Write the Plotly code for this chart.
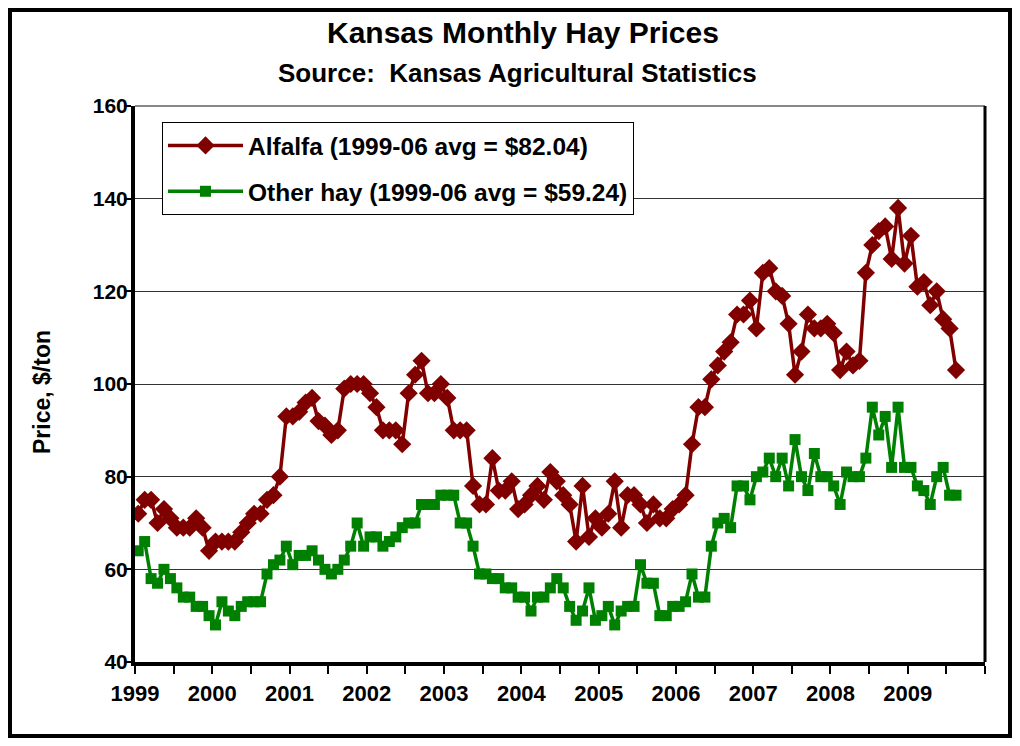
import plotly.graph_objects as go

# Monthly prices, $/ton, Jan 1999 - Aug 2009
alfalfa = [72, 75, 75, 70, 73, 71, 69, 69, 69, 71, 69, 64,
           66, 66, 66, 66, 68, 70, 72, 72, 75, 76, 80, 93,
           93, 94, 96, 97, 92, 91, 89, 90, 99, 100, 100, 100,
           98, 95, 90, 90, 90, 87, 98, 102, 105, 98, 98, 100,
           97, 90, 90, 90, 78, 74, 74, 84, 77, 77, 79, 73,
           74, 76, 78, 75, 81, 79, 76, 74, 66, 78, 67, 71,
           69, 72, 79, 69, 76, 76, 74, 70, 74, 71, 71, 73,
           74, 76, 87, 95, 95, 101, 104, 107, 109, 115, 115, 118,
           112, 124, 125, 120, 119, 113, 102, 107, 115, 112, 112, 113,
           111, 103, 107, 104, 105, 124, 130, 133, 134, 127, 138, 126,
           132, 121, 122, 117, 120, 114, 112, 103]

other_hay = [64, 66, 58, 57, 60, 58, 56, 54, 54, 52, 52, 50,
             48, 53, 51, 50, 52, 53, 53, 53, 59, 61, 62, 65,
             61, 63, 63, 64, 62, 60, 59, 60, 62, 65, 70, 65,
             67, 67, 65, 66, 67, 69, 70, 70, 74, 74, 74, 76,
             76, 76, 70, 70, 65, 59, 59, 58, 58, 56, 56, 54,
             54, 51, 54, 54, 56, 58, 56, 52, 49, 51, 56, 49,
             50, 52, 48, 51, 52, 52, 61, 57, 57, 50, 50, 52,
             52, 53, 59, 54, 54, 65, 70, 71, 69, 78, 78, 75,
             80, 81, 84, 80, 84, 78, 88, 80, 77, 85, 80, 80,
             78, 74, 81, 80, 80, 84, 95, 89, 93, 82, 95, 82,
             82, 78, 77, 74, 80, 82, 76, 76]

years = list(range(1999, 2010))

# month midpoints on a year scale
x = [1999 + (i + 0.5) / 12 for i in range(len(alfalfa))]

# page body has an 8px margin, so lay the figure out in page pixels minus 8
OFF = 8
W, H = 1004, 730
L, R, T, B = 135 - OFF, 985 - OFF, 106 - OFF, 662 - OFF
pw, ph = R - L, B - T


def px(xp):
    return (xp - OFF - L) / pw


def py(yp):
    return (B - (yp - OFF)) / ph


font = "Liberation Sans"

fig = go.Figure()
fig.add_trace(go.Scatter(x=x, y=alfalfa, mode='lines+markers',
                         name='Alfalfa (1999-06 avg = $82.04)', legendgroup='a',
                         line=dict(color='#800000', width=3.5),
                         marker=dict(symbol='diamond', size=14, color='#800000')))
fig.add_trace(go.Scatter(x=x, y=other_hay, mode='lines+markers',
                         name='Other hay (1999-06 avg = $59.24)', legendgroup='b',
                         line=dict(color='#008000', width=3.5),
                         marker=dict(symbol='square', size=11, color='#008000')))

tickvals = [1999 + k * 0.5 for k in range(23)]
ticktext = [str(int(v)) if v == int(v) and v <= 2009 else '' for v in tickvals]

fig.update_layout(
    width=W, height=H,
    margin=dict(l=L, r=W - R, t=T, b=H - B),
    paper_bgcolor='white', plot_bgcolor='white',
    showlegend=True,
    legend=dict(x=px(162), y=py(122), xanchor='left', yanchor='top',
                bgcolor='white', bordercolor='black', borderwidth=1,
                itemwidth=75,
                font=dict(family=font, size=24.5, color='black', weight='bold'),
                tracegroupgap=11, traceorder='grouped'),
    xaxis=dict(range=[1999, 2010], tickvals=tickvals, ticktext=ticktext,
               showgrid=False, zeroline=False,
               showline=True, linecolor='black', linewidth=4,
               ticks='outside', ticklen=8, tickwidth=1.5, tickcolor='black',
               ticklabelstandoff=1,
               tickfont=dict(family=font, size=22, color='black', weight='bold')),
    yaxis=dict(range=[40, 160], tickvals=[40, 60, 80, 100, 120, 140, 160],
               showgrid=True, gridcolor='#333333', gridwidth=1, zeroline=False,
               showline=True, linecolor='black', linewidth=4,
               ticks='outside', ticklen=7, tickwidth=1.5, tickcolor='black',
               ticklabelstandoff=-8,
               tickfont=dict(family=font, size=21, color='black', weight='bold')),
    annotations=[
        dict(text='Kansas Monthly Hay Prices', xref='paper', yref='paper',
             x=px(523), y=py(33), showarrow=False, xanchor='center', yanchor='middle',
             font=dict(family=font, size=30, color='black', weight='bold')),
        dict(text='Source:  Kansas Agricultural Statistics', xref='paper', yref='paper',
             x=px(517), y=py(73), showarrow=False, xanchor='center', yanchor='middle',
             font=dict(family=font, size=26, color='black', weight='bold')),
        dict(text='Price, $/ton', xref='paper', yref='paper', textangle=-90,
             x=px(42), y=py(392), showarrow=False, xanchor='center', yanchor='middle',
             font=dict(family=font, size=23, color='black', weight='bold')),
    ],
    shapes=[
        # outer frame
        dict(type='rect', xref='paper', yref='paper',
             x0=-L / pw + 2 / pw, x1=(W - L - 2) / pw,
             y0=-(H - B - 2) / ph, y1=(B - 2) / ph,
             line=dict(color='black', width=4)),
        # plot area top and right
        dict(type='line', xref='paper', yref='paper', x0=0, x1=1, y0=1, y1=1,
             line=dict(color='#888888', width=2)),
        dict(type='line', xref='paper', yref='paper', x0=1, x1=1, y0=0, y1=1,
             line=dict(color='black', width=3)),
    ],
)

fig.write_html("out.html")
